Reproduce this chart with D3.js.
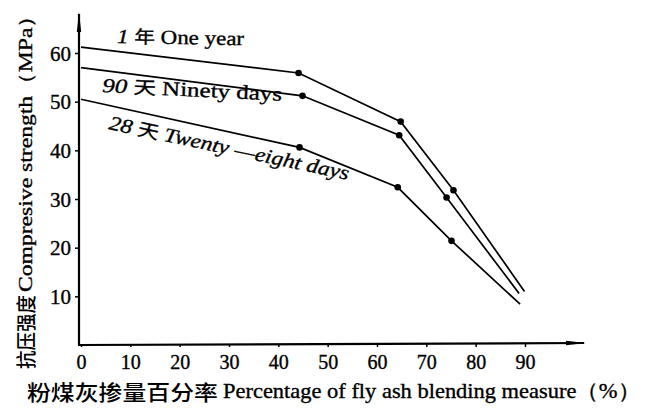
<!DOCTYPE html>
<html>
<head>
<meta charset="utf-8">
<script src="https://cdn.jsdelivr.net/npm/d3@7"></script>
<style>
  body { margin: 0; background: #fff; }
  svg { display: block; }
  text { fill: #000; }
  .ink { stroke: #000; stroke-width: 0.35px; }
</style>
</head>
<body>
<svg width="645" height="408"></svg>
<script>
// values
var xTicks = [0, 10, 20, 30, 40, 50, 60, 70, 80, 90];
var yTicks = [10, 20, 30, 40, 50, 60];

var yearX = [0, 44.1, 64.8, 75.5, 89.9];
var yearY = [61.2, 55.9, 45.9, 31.8, 11.0];

var ninetyX = [0, 44.9, 64.5, 74.1, 88.8];
var ninetyY = [57.0, 51.2, 43.1, 30.3, 10.6];

var twentyEightX = [0, 44.3, 64.2, 75.1, 89.0];
var twentyEightY = [50.5, 40.6, 32.4, 21.4, 8.4];

var seriesNames = ["1 年 One year", "90 天 Ninety days", "28 天 Twenty—eight days"];

var svg = d3.select("svg");

var serif = "'Liberation Serif', 'DejaVu Serif', serif";
var cjk = "'Noto Sans CJK SC', sans-serif";

var x = d3.scaleLinear().domain([0, 90]).range([81, 525]);
var y = d3.scaleLinear().domain([0, 60]).range([345, 53]);

// arrow heads for the axes
var defs = svg.append("defs");
defs.append("marker")
    .attr("id", "arrow")
    .attr("viewBox", "0 0 20 6")
    .attr("refX", 18)
    .attr("refY", 3)
    .attr("markerWidth", 20)
    .attr("markerHeight", 6)
    .attr("markerUnits", "userSpaceOnUse")
    .attr("orient", "auto")
    .append("path")
    .attr("d", "M0,0.8 L20,3 L0,5.2 Z")
    .attr("fill", "#000");

// axis lines
svg.append("line")
    .attr("x1", 79).attr("y1", 345)
    .attr("x2", 79).attr("y2", 14)
    .attr("stroke", "#000")
    .attr("stroke-width", 2.2)
    .attr("marker-end", "url(#arrow)");
svg.append("line")
    .attr("x1", 78).attr("y1", 345)
    .attr("x2", 584).attr("y2", 343)
    .attr("stroke", "#000")
    .attr("stroke-width", 2.2)
    .attr("marker-end", "url(#arrow)");

// y ticks
var yAxis = svg.append("g")
    .attr("transform", "translate(79,0)")
    .call(d3.axisLeft(y).tickValues(yTicks).tickSize(4).tickPadding(4));
yAxis.select(".domain").remove();
yAxis.selectAll("line").attr("stroke-width", 1.5);
yAxis.selectAll("text")
    .attr("class", "ink")
    .attr("font-family", serif)
    .attr("font-size", 21)
    .attr("dy", "0.34em");

// x ticks
var xAxis = svg.append("g")
    .attr("transform", "translate(0,344)")
    .call(d3.axisBottom(x).tickValues(xTicks).tickSize(3).tickPadding(8));
xAxis.select(".domain").remove();
xAxis.selectAll("line").attr("stroke-width", 1.5);
xAxis.selectAll("text")
    .attr("class", "ink")
    .attr("font-family", serif)
    .attr("font-size", 20);

// curves
var series = [
    { name: seriesNames[0], xs: yearX, ys: yearY },
    { name: seriesNames[1], xs: ninetyX, ys: ninetyY },
    { name: seriesNames[2], xs: twentyEightX, ys: twentyEightY }
];

var line = d3.line()
    .x(function (d) { return x(d[0]); })
    .y(function (d) { return y(d[1]); });

series.forEach(function (s) {
    var pts = d3.zip(s.xs, s.ys);
    svg.append("path")
        .datum(pts)
        .attr("d", line)
        .attr("fill", "none")
        .attr("stroke", "#000")
        .attr("stroke-width", 1.7);
    // dots only on the inner points
    svg.selectAll(null)
        .data(pts.slice(1, pts.length - 1))
        .enter()
        .append("circle")
        .attr("cx", function (d) { return x(d[0]); })
        .attr("cy", function (d) { return y(d[1]); })
        .attr("r", 3.3)
        .attr("fill", "#000");
});

// curve labels
function curveLabel(tx, ty, angle, len, num, cn, en, italic) {
    var t = svg.append("text")
        .attr("class", "ink")
        .attr("transform", "translate(" + tx + "," + ty + ") rotate(" + angle + ")")
        .attr("font-family", serif)
        .attr("font-size", 20)
        .attr("textLength", len)
        .attr("lengthAdjust", "spacingAndGlyphs");
    t.append("tspan").attr("font-style", "italic").text(num + " ");
    t.append("tspan").attr("font-family", cjk).attr("font-size", 18).text(cn);
    t.append("tspan").attr("font-style", italic ? "italic" : "normal").text(" " + en);
}
curveLabel(117, 43, 1, 127, "1", "年", "One year", false);
curveLabel(102, 92, 2.8, 180, "90", "天", "Ninety days", false);
curveLabel(108, 129, 12, 245, "28", "天", "Twenty —eight days", true);

// y axis title
svg.append("text")
    .attr("transform", "translate(34,369) rotate(-90)")
    .attr("font-family", cjk)
    .attr("font-size", 20)
    .attr("font-weight", 500)
    .attr("textLength", 74)
    .attr("lengthAdjust", "spacingAndGlyphs")
    .text("抗压强度");
svg.append("text")
    .attr("class", "ink")
    .attr("transform", "translate(32,292) rotate(-90)")
    .attr("font-family", serif)
    .attr("font-size", 19)
    .attr("textLength", 288)
    .attr("lengthAdjust", "spacingAndGlyphs")
    .text("Compresive strength（MPa）");

// x axis title
svg.append("text")
    .attr("x", 27)
    .attr("y", 400)
    .attr("font-family", cjk)
    .attr("font-size", 21)
    .attr("font-weight", 500)
    .attr("textLength", 191)
    .attr("lengthAdjust", "spacingAndGlyphs")
    .text("粉煤灰掺量百分率");
svg.append("text")
    .attr("class", "ink")
    .attr("x", 223)
    .attr("y", 398)
    .attr("font-family", serif)
    .attr("font-size", 21)
    .attr("textLength", 417)
    .attr("lengthAdjust", "spacingAndGlyphs")
    .text("Percentage of fly ash blending measure（%）");
</script>
</body>
</html>
